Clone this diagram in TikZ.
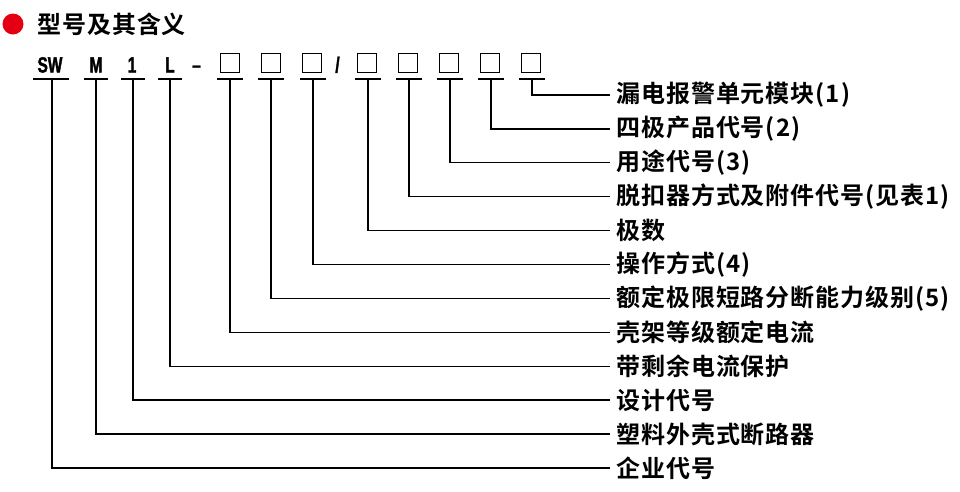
\documentclass[tikz,border=0pt]{standalone}
\usepackage{fontspec}
\setmainfont{Liberation Sans}
\newfontfamily\cjk{Noto Sans CJK SC Bold}[LetterSpace=4]
\newfontfamily\codefont{Liberation Sans Bold}[FakeStretch=0.7,FakeBold=1.6]
\definecolor{dotred}{RGB}{228,0,18}
\tikzset{
  code/.style={font=\codefont\fontsize{22}{22}\selectfont, inner sep=0pt, anchor=base},
  slot/.style={draw, line width=1.9pt, minimum size=19pt, inner sep=0pt},
  mean/.style={font=\cjk\fontsize{24}{24}\selectfont, anchor=west, inner xsep=6pt, inner ysep=0pt},
}
\begin{document}
\begin{tikzpicture}[x=1pt,y=-1pt]
      \useasboundingbox (0,0) rectangle (960,491);
      \node[circle, fill=dotred, minimum size=21pt, inner sep=0pt] (dot) at (13,24) {};
      \node[mean, inner xsep=0pt] (title) at (37,24) {型号及其含义};
      \draw
        (50,72.5) node[code] (sw){SW}
        (96,72.5) node[code] (m){M}
        (132,72.5) node[code] (one){1}
        (170,72.5) node[code] (l){L}
        (196.5,72.5) node[code] (dash){–}
        (230,63) node[slot] (s1){}
        (271,63) node[slot] (s2){}
        (312,63) node[slot] (s3){}
        (337.5,72.5) node[code] (slash){/}
        (367,63) node[slot] (s4){}
        (408,63) node[slot] (s5){}
        (449,63) node[slot] (s6){}
        (490,63) node[slot] (s7){}
        (531,63) node[slot] (s8){};
      \coordinate (u0) at (52,79);
      \coordinate (u1) at (96,79);
      \coordinate (u2) at (133,79);
      \coordinate (u3) at (170,79);
      \coordinate (u4) at (230,79);
      \coordinate (u5) at (271,79);
      \coordinate (u6) at (313,79);
      \coordinate (u7) at (368,79);
      \coordinate (u8) at (409,79);
      \coordinate (u9) at (450,79);
      \coordinate (u10) at (491,79);
      \coordinate (u11) at (532,79);
      \draw
        (610,95) node[mean] (t1){漏电报警单元模块(1)}
        (610,128.9) node[mean] (t2){四极产品代号(2)}
        (610,162.8) node[mean] (t3){用途代号(3)}
        (610,196.7) node[mean] (t4){脱扣器方式及附件代号(见表1)}
        (610,230.6) node[mean] (t5){极数}
        (610,264.5) node[mean] (t6){操作方式(4)}
        (610,298.4) node[mean] (t7){额定极限短路分断能力级别(5)}
        (610,332.3) node[mean] (t8){壳架等级额定电流}
        (610,366.2) node[mean] (t9){带剩余电流保护}
        (610,400.1) node[mean] (t10){设计代号}
        (610,434) node[mean] (t11){塑料外壳式断路器}
        (610,467.9) node[mean] (t12){企业代号};
      \begin{scope}[line width=1.2pt]
        \draw ([xshift=-19pt]u0) -- ([xshift=17pt]u0);
        \draw ([xshift=-12pt]u1) -- ([xshift=12pt]u1);
        \draw ([xshift=-12pt]u2) -- ([xshift=12pt]u2);
        \draw ([xshift=-12pt]u3) -- ([xshift=12pt]u3);
        \draw ([xshift=-13pt]u4) -- ([xshift=13pt]u4);
        \draw ([xshift=-13pt]u5) -- ([xshift=13pt]u5);
        \draw ([xshift=-13pt]u6) -- ([xshift=13pt]u6);
        \draw ([xshift=-13pt]u7) -- ([xshift=13pt]u7);
        \draw ([xshift=-13pt]u8) -- ([xshift=13pt]u8);
        \draw ([xshift=-13pt]u9) -- ([xshift=13pt]u9);
        \draw ([xshift=-13pt]u10) -- ([xshift=13pt]u10);
        \draw ([xshift=-13pt]u11) -- ([xshift=13pt]u11);
      \end{scope}
      \begin{scope}[line width=1.3pt]
        \draw (u11) |- (t1.west);
        \draw (u10) |- (t2.west);
        \draw (u9) |- (t3.west);
        \draw (u8) |- (t4.west);
        \draw (u7) |- (t5.west);
        \draw (u6) |- (t6.west);
        \draw (u5) |- (t7.west);
        \draw (u4) |- (t8.west);
        \draw (u3) |- (t9.west);
        \draw (u2) |- (t10.west);
        \draw (u1) |- (t11.west);
        \draw (u0) |- (t12.west);
      \end{scope}
    \end{tikzpicture}
\end{document}
